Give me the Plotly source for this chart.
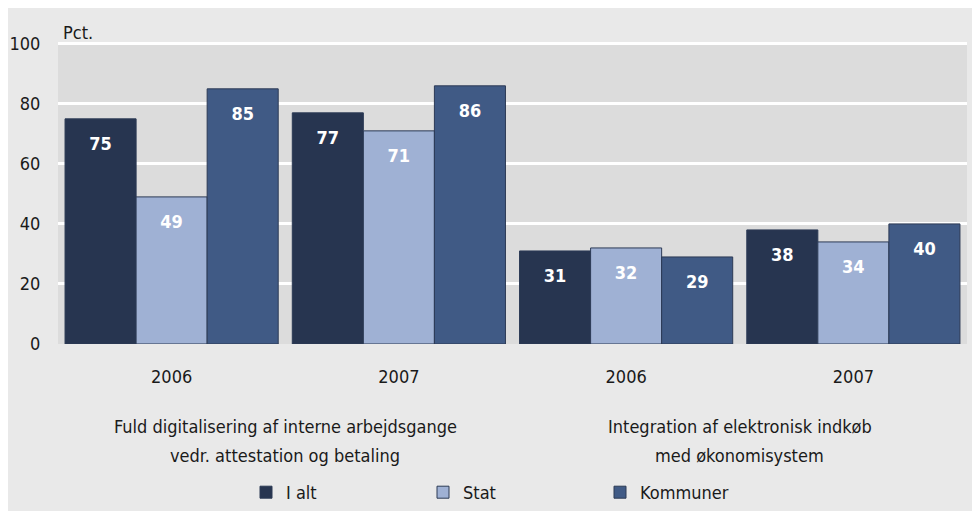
import plotly.graph_objects as go

years = ["2006", "2007", "2006", "2007"]
positions = [0, 1, 2, 3]
series_names = ["I alt", "Stat", "Kommuner"]
i_alt = [75, 77, 31, 38]
stat = [49, 71, 32, 34]
kommuner = [85, 86, 29, 40]
group_titles = [
    ["Fuld digitalisering af interne arbejdsgange", "vedr. attestation og betaling"],
    ["Integration af elektronisk indkøb", "med økonomisystem"],
]
group_centers = [0.5, 2.5]
y_ticks = [0, 20, 40, 60, 80, 100]

colors = ["#273550", "#9fb1d4", "#405a85"]
FONT = "'Liberation Sans Narrow', 'DejaVu Sans Condensed', Roboto, sans-serif"

W, H = 980, 511
L, R, T, B = 50, 21, 34, 175
PW, PH = W - L - R, H - T - B
GAP = 0.062

fig = go.Figure()
for name, vals, col in zip(series_names, [i_alt, stat, kommuner], colors):
    fig.add_trace(go.Bar(
        name=name, x=positions, y=vals, offsetgroup=name, alignmentgroup="all",
        marker=dict(color=col, line=dict(color="#2c3a55", width=1)),
        hoverinfo="skip",
    ))
for name, vals in zip(series_names, [i_alt, stat, kommuner]):
    fig.add_trace(go.Scatter(
        x=positions, y=vals, mode="markers+text", text=[str(v) for v in vals],
        textposition="bottom center", offsetgroup=name, alignmentgroup="all", showlegend=False,
        marker=dict(size=27, color="rgba(0,0,0,0)"),
        textfont=dict(color="white", size=18, family=FONT, weight="bold"),
        hoverinfo="skip",
    ))

def px_x(px):
    return (px - L) / PW

def px_y(py):
    return (H - B - py) / PH

annotations = [dict(text="Pct.", xref="paper", yref="paper", x=px_x(53), y=px_y(24),
                    xanchor="left", yanchor="middle", showarrow=False,
                    font=dict(size=18, color="#1a1a1a", family=FONT))]
for c, lines in zip(group_centers, group_titles):
    for k, line in enumerate(lines):
        annotations.append(dict(text=line, xref="x", yref="paper", x=c, y=px_y(418 + 29 * k),
                                xanchor="center", yanchor="middle", showarrow=False,
                                font=dict(size=18, color="#1a1a1a", family=FONT)))

fig.update_layout(
    width=W, height=H,
    margin=dict(l=L, r=R, t=T, b=B),
    paper_bgcolor="#e9e9e9", plot_bgcolor="#dcdcdc",
    barmode="group", bargap=GAP, bargroupgap=0,
    scattermode="group", scattergap=GAP,
    font=dict(family=FONT, color="#1a1a1a", size=18),
    xaxis=dict(tickvals=positions, ticktext=years, range=[-0.5, 3.5], showgrid=False,
               zeroline=False, ticks="outside", ticklen=16, tickcolor="rgba(0,0,0,0)",
               tickfont=dict(size=18, color="#1a1a1a", family=FONT), automargin=False),
    yaxis=dict(range=[0, 100.6], tickvals=y_ticks, showgrid=True, gridcolor="white", gridwidth=2.5,
               zeroline=False, ticks="outside", ticklen=13, tickcolor="rgba(0,0,0,0)",
               tickfont=dict(size=18, color="#1a1a1a", family=FONT), automargin=False),
    legend=dict(orientation="h", xref="container", yref="container",
                x=238 / W, y=1 - 484.5 / H, xanchor="left", yanchor="middle",
                entrywidth=132, entrywidthmode="pixels", bgcolor="rgba(0,0,0,0)",
                font=dict(size=18, color="#1a1a1a", family=FONT), traceorder="normal"),
    annotations=annotations, showlegend=True,
)

fig.write_html("out.html")
